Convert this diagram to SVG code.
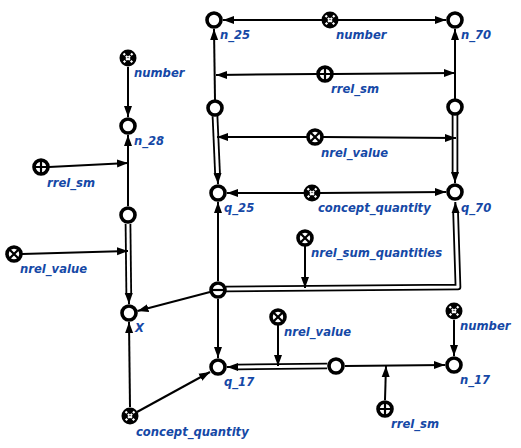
<svg xmlns="http://www.w3.org/2000/svg" width="521" height="448" viewBox="0 0 521 448">
<style>
.n{fill:#fff;stroke:#000;stroke-width:3.6}
.wx{stroke:#fff;stroke-width:2.2;stroke-dasharray:2.2 1.2}
.bx{stroke:#000;stroke-width:2.2}
.e{fill:none;stroke:#000;stroke-width:2}
.do{fill:none;stroke:#000;stroke-width:6.6;stroke-linejoin:round}
.di{fill:none;stroke:#fff;stroke-width:3;stroke-linejoin:round}
text{font-family:"DejaVu Sans",sans-serif;font-weight:bold;font-style:italic;font-size:11.6px;fill:#1548a6}
</style>
<defs>
<marker id="ar" markerUnits="userSpaceOnUse" markerWidth="11" markerHeight="9" refX="11" refY="4.5" orient="auto"><path d="M0,0.5 L11,4.5 L0,8.5 z" fill="#000"/></marker>
<g id="cnum"><circle r="8.5" fill="#000"/><path class="wx" d="M-4.5,-4.5 L4.5,4.5 M4.5,-4.5 L-4.5,4.5"/></g>
<g id="crole"><circle r="7" class="n"/><path class="bx" d="M-6.5,0 H6.5 M0,-6.5 V6.5"/></g>
<g id="cnrel"><circle r="7" class="n"/><path class="bx" d="M-4.8,-4.8 L4.8,4.8 M4.8,-4.8 L-4.8,4.8"/></g>
</defs>
<g id="connectors">
<path class="e" marker-end="url(#ar)" d="M322,20 L223,20"/>
<path class="e" marker-end="url(#ar)" d="M338,20 L446,20"/>
<path class="e" marker-end="url(#ar)" d="M215,100 L214,29"/>
<path class="e" marker-end="url(#ar)" d="M455,99 L455,29"/>
<path class="e" marker-end="url(#ar)" d="M317,74 L216,75"/>
<path class="e" marker-end="url(#ar)" d="M333,74 L455,73"/>
<path class="do" d="M215,116 L217.6,175"/><path class="di" d="M215,116 L217.6,175"/>
<path class="e" marker-end="url(#ar)" d="M217.6,174 L218,184"/>
<path class="do" d="M455,115 L455,174"/><path class="di" d="M455,115 L455,174"/>
<path class="e" marker-end="url(#ar)" d="M455,173 L455,183"/>
<path class="e" marker-end="url(#ar)" d="M307,137 L217,137"/>
<path class="e" marker-end="url(#ar)" d="M323,137 L456,138"/>
<path class="e" marker-end="url(#ar)" d="M304,193 L227,193"/>
<path class="e" marker-end="url(#ar)" d="M320,193 L446,192"/>
<path class="e" marker-end="url(#ar)" d="M218,281 L218,202"/>
<path class="do" d="M226,289 L458,287 L455.6,212"/><path class="di" d="M226,289 L458,287 L455.6,212"/>
<path class="e" marker-end="url(#ar)" d="M455.6,213 L455.3,202"/>
<path class="e" marker-end="url(#ar)" d="M305,246 L305,288"/>
<path class="e" marker-end="url(#ar)" d="M210,292 L137.5,311"/>
<path class="e" marker-end="url(#ar)" d="M218,299 L218,358"/>
<path class="e" marker-end="url(#ar)" d="M128,67 L128,117"/>
<path class="e" marker-end="url(#ar)" d="M128,206 L128,135"/>
<path class="e" marker-end="url(#ar)" d="M49,167 L128,163"/>
<path class="do" d="M128,224 L128.8,295"/><path class="di" d="M128,224 L128.8,295"/>
<path class="e" marker-end="url(#ar)" d="M128.8,294 L129,304"/>
<path class="e" marker-end="url(#ar)" d="M22,254 L128,251"/>
<path class="e" marker-end="url(#ar)" d="M130,407 L129,322"/>
<path class="e" marker-end="url(#ar)" d="M137,412 L210,372"/>
<path class="do" d="M327,366 L237,367"/><path class="di" d="M327,366 L237,367"/>
<path class="e" marker-end="url(#ar)" d="M238,367 L227,367"/>
<path class="e" marker-end="url(#ar)" d="M278,325 L278,366"/>
<path class="e" marker-end="url(#ar)" d="M345,366 L445,365"/>
<path class="e" marker-end="url(#ar)" d="M385,400 L386,366"/>
<path class="e" marker-end="url(#ar)" d="M454,320 L454,356"/>
</g>
<g id="n_25"><circle class="n" cx="214" cy="20" r="7"/><text x="220" y="39">n_25</text></g>
<g id="number_top"><use href="#cnum" x="330" y="20"/><text x="336" y="39">number</text></g>
<g id="n_70"><circle class="n" cx="455" cy="20" r="7"/><text x="461" y="39">n_70</text></g>
<g id="rrel_sm_top"><use href="#crole" x="325" y="74"/><text x="331" y="93">rrel_sm</text></g>
<g id="node_l25"><circle class="n" cx="215" cy="108" r="7"/></g>
<g id="node_l70"><circle class="n" cx="455" cy="107" r="7"/></g>
<g id="nrel_value_mid"><use href="#cnrel" x="315" y="137"/><text x="321" y="157">nrel_value</text></g>
<g id="q_25"><circle class="n" cx="218" cy="193" r="7"/><text x="224" y="212">q_25</text></g>
<g id="concept_quantity_mid"><use href="#cnum" x="312" y="193"/><text x="318" y="212">concept_quantity</text></g>
<g id="q_70"><circle class="n" cx="455" cy="192" r="7"/><text x="461" y="212">q_70</text></g>
<g id="nrel_sum_quantities"><use href="#cnrel" x="305" y="238"/><text x="311" y="257">nrel_sum_quantities</text></g>
<g id="tuple"><circle class="n" cx="218" cy="290" r="7"/><path class="bx" d="M211.5,290 H224.5"/></g>
<g id="number_left"><use href="#cnum" x="128" y="58"/><text x="134" y="77">number</text></g>
<g id="n_28"><circle class="n" cx="128" cy="126" r="7"/><text x="134" y="145">n_28</text></g>
<g id="rrel_sm_left"><use href="#crole" x="41" y="167"/><text x="47" y="187">rrel_sm</text></g>
<g id="node_l28"><circle class="n" cx="128" cy="215" r="7"/></g>
<g id="nrel_value_left"><use href="#cnrel" x="14" y="254"/><text x="20" y="273">nrel_value</text></g>
<g id="X"><circle class="n" cx="129" cy="313" r="7"/><text x="135" y="332">X</text></g>
<g id="q_17"><circle class="n" cx="218" cy="367" r="7"/><text x="224" y="386">q_17</text></g>
<g id="concept_quantity_bottom"><use href="#cnum" x="130" y="416"/><text x="136" y="436">concept_quantity</text></g>
<g id="nrel_value_bottom"><use href="#cnrel" x="278" y="317"/><text x="284" y="336">nrel_value</text></g>
<g id="node_l17"><circle class="n" cx="336" cy="366" r="7"/></g>
<g id="number_right"><use href="#cnum" x="454" y="311"/><text x="460" y="330">number</text></g>
<g id="n_17"><circle class="n" cx="454" cy="365" r="7"/><text x="460" y="384">n_17</text></g>
<g id="rrel_sm_bottom"><use href="#crole" x="385" y="409"/><text x="391" y="428">rrel_sm</text></g>
</svg>
